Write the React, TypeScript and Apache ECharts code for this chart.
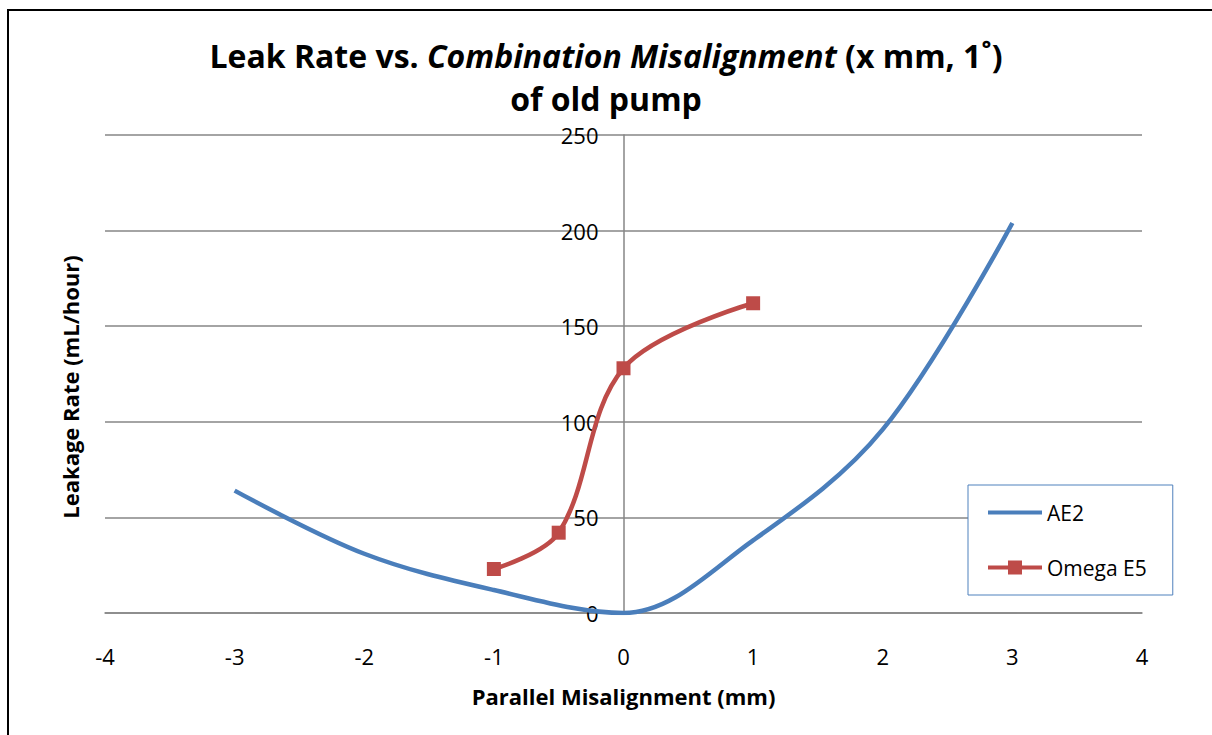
import React, { useEffect, useRef } from "react";
import * as echarts from "echarts";

const xTicks = [-4, -3, -2, -1, 0, 1, 2, 3, 4];
const yTicks = [0, 50, 100, 150, 200, 250];
const ae2X = [-3, -2, -1, 0, 1, 2, 3];
const ae2Y = [64, 31, 12, 0, 38, 96, 204];
const omegaX = [-1, -0.5, 0, 1];
const omegaY = [23, 42, 128, 162];
const seriesNames = ["AE2", "Omega E5"];

const FONT = "'Open Sans', Lato, sans-serif";

export default function App() {
  const ref = useRef<HTMLDivElement>(null);
  useEffect(() => {
    document.body.style.margin = "0";
    const chart = echarts.init(ref.current!, null, { renderer: "svg" });
    const gridLeft = 105;
    const gridRight = 70;
    const plotW = 1212 - gridLeft - gridRight;
    const zeroOffset = -plotW / 2;
    chart.setOption({
      animation: false,
      backgroundColor: "#ffffff",
      textStyle: { fontFamily: FONT },
      title: {
        left: "center",
        top: 29,
        text: "{b|Leak Rate vs. }{i|Combination Misalignment}{b| (x mm, 1˚)}\n{b|of old pump}",
        textStyle: {
          rich: {
            b: { fontFamily: FONT, fontWeight: "bold", fontSize: 32, color: "#000", lineHeight: 43 },
            i: { fontFamily: FONT, fontWeight: "bold", fontStyle: "italic", fontSize: 32, color: "#000", lineHeight: 43 },
          },
        },
      },
      graphic: [
        {
          type: "rect",
          shape: { x: 8, y: 10, width: 1230, height: 760 },
          style: { fill: "none", stroke: "#000", lineWidth: 2 },
          silent: true,
        },
        {
          type: "text",
          x: 70,
          y: 387,
          rotation: Math.PI / 2,
          style: {
            text: "Leakage Rate (mL/hour)",
            fontFamily: FONT,
            fontWeight: "bold",
            fontSize: 22,
            fill: "#000",
            align: "center",
            verticalAlign: "middle",
          },
        },
      ],
      grid: { left: gridLeft, right: gridRight, top: 135, bottom: 122 },
      legend: {
        orient: "vertical",
        left: 968,
        top: 485,
        data: [
          { name: seriesNames[0], icon: "path://M0 6H54V10H0Z" },
          { name: seriesNames[1], icon: "path://M0 6H54V10H0Z M20 1H34V15H20Z" },
        ],
        backgroundColor: "#ffffff",
        borderColor: "#4F81BD",
        borderWidth: 1,
        borderRadius: 0,
        padding: [17, 26, 17, 20],
        itemGap: 34,
        itemWidth: 54,
        itemHeight: 16,
        textStyle: { fontFamily: FONT, fontSize: 21, color: "#000" },
      },
      xAxis: {
        type: "value",
        min: -4,
        max: 4,
        interval: 1,
        name: "Parallel Misalignment (mm)",
        nameLocation: "middle",
        nameGap: 72,
        nameTextStyle: { fontFamily: FONT, fontWeight: "bold", fontSize: 22, color: "#000" },
        axisLine: { show: true, onZero: false, lineStyle: { color: "#868686", width: 1.5 } },
        axisTick: { show: false },
        axisLabel: {
          margin: 32,
          fontFamily: FONT,
          fontSize: 22,
          color: "#000",
          formatter: (v: number) => (xTicks.includes(v) ? String(v) : ""),
        },
        splitLine: { show: false },
      },
      yAxis: {
        type: "value",
        min: 0,
        max: 250,
        interval: 50,
        offset: zeroOffset,
        axisLine: { show: true, onZero: false, lineStyle: { color: "#868686", width: 1.5 } },
        axisTick: { show: false },
        axisLabel: {
          margin: 25,
          fontFamily: FONT,
          fontSize: 22,
          color: "#000",
          formatter: (v: number) => (yTicks.includes(v) ? String(v) : ""),
        },
        splitLine: { show: true, lineStyle: { color: "#868686", width: 1.5 } },
      },
      series: [
        {
          name: seriesNames[0],
          type: "line",
          data: ae2X.map((x, i) => [x, ae2Y[i]]),
          smooth: 0.35,
          symbol: "none",
          lineStyle: { color: "#4A7EBB", width: 4.5 },
          itemStyle: { color: "#4A7EBB" },
          z: 3,
        },
        {
          name: seriesNames[1],
          type: "line",
          data: omegaX.map((x, i) => [x, omegaY[i]]),
          smooth: 0.35,
          symbol: "rect",
          symbolSize: 14,
          lineStyle: { color: "#BE4B48", width: 4.5 },
          itemStyle: { color: "#BE4B48" },
          z: 4,
        },
      ],
    });
    return () => chart.dispose();
  }, []);
  return <div ref={ref} style={{ width: 1212, height: 735 }} />;
}
